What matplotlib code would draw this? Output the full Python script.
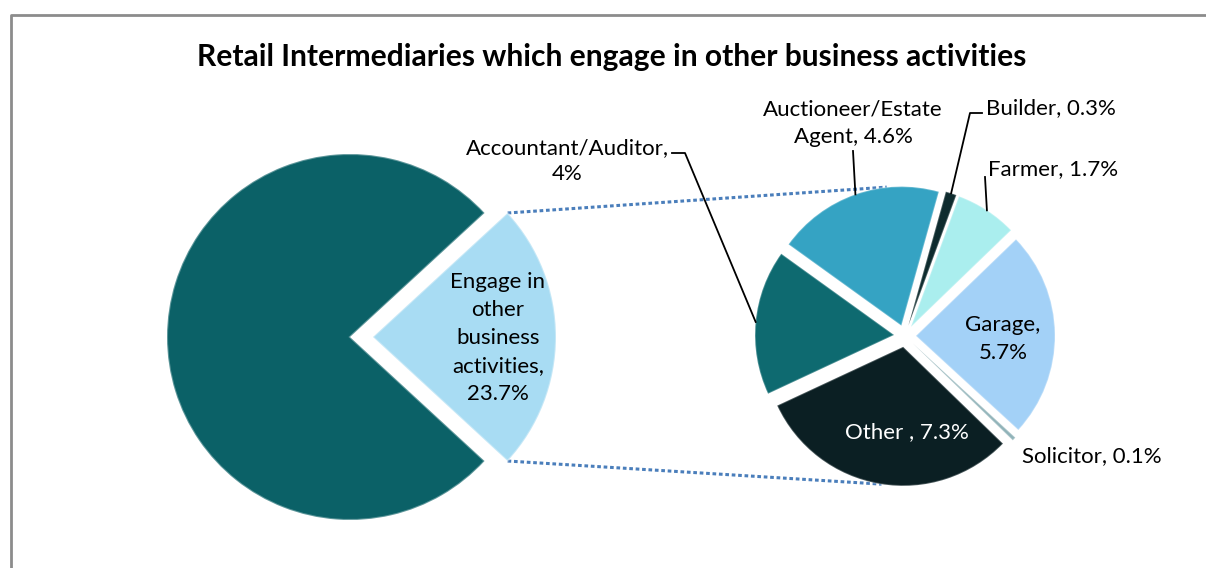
import numpy as np
import matplotlib
matplotlib.use("Agg")
import matplotlib.pyplot as plt

plt.rcParams['font.family'] = ['Lato', 'DejaVu Sans']

# ---------------- data ----------------
title = "Retail Intermediaries which engage in other business activities"
outer_values = [76.3, 23.7]
outer_colors = ["#0b6167", "#a8dcf3"]
outer_text = "Engage in\nother\nbusiness\nactivities,\n23.7%"

inner_names = ["Accountant/Auditor", "Auctioneer/Estate Agent", "Builder", "Farmer",
               "Garage", "Solicitor", "Other"]
inner_values = [4.0, 4.6, 0.3, 1.7, 5.7, 0.1, 7.3]
inner_colors = ["#0e6a70", "#35a3c3", "#0e2b2e", "#aaeeee", "#a3d1f7", "#8fb2b8", "#0b1f23"]
inner_texts = ["Accountant/Auditor,\n4%", "Auctioneer/Estate\nAgent, 4.6%", "Builder, 0.3%",
               "Farmer, 1.7%", "Garage,\n5.7%", "Solicitor, 0.1%", "Other , 7.3%"]

W, H = 1206, 568
fig = plt.figure(figsize=(W / 100, H / 100), dpi=100)
ax = fig.add_axes([0, 0, 1, 1])

def Y(y):
    return H - y

# ---------------- left pie ----------------
lc = (350, Y(337))
lr = 183
l_off = 23
small_half = outer_values[1] / 2 * 3.6
lw_, _ = ax.pie(outer_values, colors=outer_colors, startangle=small_half,
                counterclock=True, center=lc, radius=lr,
                explode=[0, l_off], frame=True,
                wedgeprops=dict(linewidth=1.5, edgecolor="#ffffff55"))

# ---------------- right pie ----------------
rc = (905, Y(336))
rr = 139
r_off = 11
start = 205
rw, _ = ax.pie(inner_values, colors=inner_colors, startangle=start,
               counterclock=False, center=rc, radius=rr,
               explode=[r_off] * len(inner_values), frame=True,
               wedgeprops=dict(linewidth=1.2, edgecolor="#ffffff40"))

# ---------------- connector lines ----------------
corner_top = (lc[0] + l_off + lr * np.cos(np.radians(small_half)),
              lc[1] + lr * np.sin(np.radians(small_half)))
corner_bot = (lc[0] + l_off + lr * np.cos(np.radians(-small_half)),
              lc[1] + lr * np.sin(np.radians(-small_half)))
rt = (rc[0] + (rr + r_off) * np.cos(np.radians(97)), rc[1] + (rr + r_off) * np.sin(np.radians(97)))
rb = (rc[0] + (rr + r_off) * np.cos(np.radians(-99)), rc[1] + (rr + r_off) * np.sin(np.radians(-99)))
for a, b in [(corner_top, rt), (corner_bot, rb)]:
    ax.plot([a[0], b[0]], [a[1], b[1]], color="#4a7ebb", lw=2.2,
            linestyle=(0, (1.2, 0.9)), zorder=0)

# ---------------- labels ----------------
fs = 16
ls = 1.5
ax.text(498, Y(338), outer_text, ha="center", va="center", fontsize=fs,
        linespacing=ls, color="black")

mids = [(w.theta1 + w.theta2) / 2 for w in rw]
def edge_pt(i):
    a = np.radians(mids[i])
    return (rc[0] + (rr + r_off) * np.cos(a), rc[1] + (rr + r_off) * np.sin(a))

# Accountant/Auditor
ax.text(567, Y(161), inner_texts[0], ha="center", va="center", fontsize=fs, linespacing=1.4)
p = edge_pt(0)
ax.plot([672, 685, p[0]], [Y(153), Y(153), p[1]], color="black", lw=1.3)
# Auctioneer
ax.text(853, Y(123), inner_texts[1], ha="center", va="center", fontsize=fs, linespacing=ls)
p = edge_pt(1)
ax.plot([853, p[0]], [Y(151), p[1]], color="black", lw=1.3)
# Builder
ax.text(986, Y(108), inner_texts[2], ha="left", va="center", fontsize=fs)
p = edge_pt(2)
ax.plot([982, 970, p[0]], [Y(113), Y(113), p[1]], color="black", lw=1.3)
# Farmer
ax.text(988, Y(169), inner_texts[3], ha="left", va="center", fontsize=fs)
p = edge_pt(3)
ax.plot([985, p[0]], [Y(177), p[1]], color="black", lw=1.3)
# Garage
ax.text(1003, Y(339), inner_texts[4], ha="center", va="center", fontsize=fs, linespacing=ls)
# Solicitor
ax.text(1022, Y(456), inner_texts[5], ha="left", va="center", fontsize=fs)
# Other
ax.text(907, Y(432), inner_texts[6], ha="center", va="center", fontsize=fs, color="white")

# ---------------- title ----------------
ax.text(612, Y(57), title, ha="center", va="center", fontsize=21.6, fontweight="bold")

# ---------------- frame ----------------
ax.plot([11, 11, W + 5], [-5, Y(15), Y(15)], color="#8c8c8c", lw=2, solid_capstyle="butt")

ax.set_xlim(0, W)
ax.set_ylim(0, H)
ax.set_aspect("auto")
ax.axis("off")

fig.savefig("out.png", dpi=100)
